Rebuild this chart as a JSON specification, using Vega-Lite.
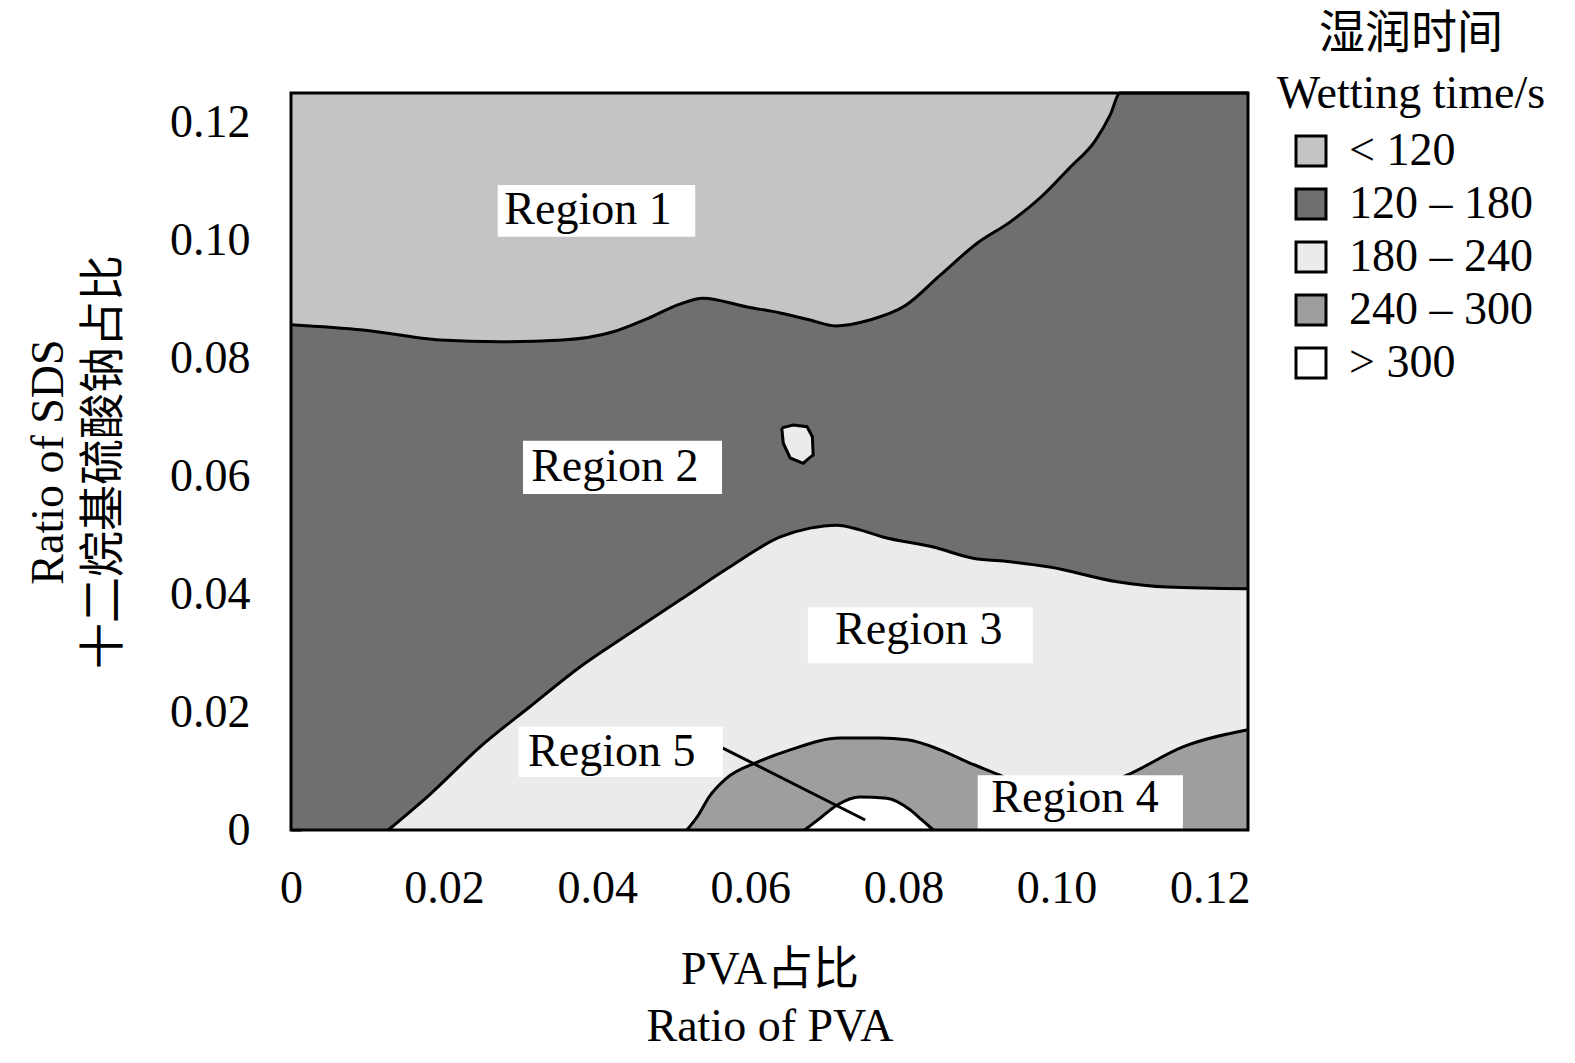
{
  "$schema": "https://vega.github.io/schema/vega-lite/v6.json",
  "width": 957,
  "height": 737,
  "autosize": "none",
  "padding": {"left": 291, "top": 93, "right": 327, "bottom": 233},
  "background": "white",
  "datasets": {
    "upper": [{"x":0,"y":0.0857},{"x":0.0094,"y":0.0848},{"x":0.0195,"y":0.0831},{"x":0.0273,"y":0.0828},{"x":0.0355,"y":0.0831},{"x":0.0421,"y":0.0845},{"x":0.0465,"y":0.0867},{"x":0.0508,"y":0.0892},{"x":0.0538,"y":0.0902},{"x":0.0596,"y":0.0887},{"x":0.0639,"y":0.0877},{"x":0.0678,"y":0.0865},{"x":0.0711,"y":0.0855},{"x":0.0756,"y":0.0865},{"x":0.0802,"y":0.0889},{"x":0.0848,"y":0.0941},{"x":0.0897,"y":0.0996},{"x":0.0939,"y":0.1031},{"x":0.098,"y":0.1074},{"x":0.1017,"y":0.1123},{"x":0.1051,"y":0.117},{"x":0.107,"y":0.1213},{"x":0.1083,"y":0.125},{"x":0.125,"y":0.125}],
    "lower": [{"x":0.0127,"y":0},{"x":0.0182,"y":0.0061},{"x":0.0247,"y":0.0141},{"x":0.0312,"y":0.0209},{"x":0.0377,"y":0.0276},{"x":0.0443,"y":0.0334},{"x":0.0508,"y":0.039},{"x":0.0573,"y":0.0446},{"x":0.0639,"y":0.0497},{"x":0.0678,"y":0.0512},{"x":0.0713,"y":0.0517},{"x":0.0743,"y":0.0509},{"x":0.0773,"y":0.0497},{"x":0.0839,"y":0.048},{"x":0.0891,"y":0.0461},{"x":0.0939,"y":0.0455},{"x":0.0991,"y":0.0446},{"x":0.1079,"y":0.0421},{"x":0.1144,"y":0.0412},{"x":0.125,"y":0.0409}],
    "dome4": [{"x":0.0517,"y":0},{"x":0.0532,"y":0.0025},{"x":0.0546,"y":0.0056},{"x":0.0569,"y":0.0088},{"x":0.0609,"y":0.0115},{"x":0.0652,"y":0.0136},{"x":0.0717,"y":0.0156},{"x":0.0769,"y":0.0156},{"x":0.0805,"y":0.0153},{"x":0.0848,"y":0.0136},{"x":0.0886,"y":0.0114},{"x":0.0926,"y":0.0093},{"x":0.0965,"y":0.007},{"x":0.1045,"y":0.007},{"x":0.1092,"y":0.0093},{"x":0.1165,"y":0.0141},{"x":0.125,"y":0.017}],
    "dome5": [{"x":0.0671,"y":0},{"x":0.0691,"y":0.002},{"x":0.0713,"y":0.0042},{"x":0.0743,"y":0.0056},{"x":0.0778,"y":0.0054},{"x":0.0809,"y":0.0034},{"x":0.0824,"y":0.0017},{"x":0.0839,"y":0}],
    "hexfill": [{"x":0.0641,"y":0.0682,"y2":0.0672},{"x":0.0643,"y":0.0683,"y2":0.0656},{"x":0.0652,"y":0.0686,"y2":0.0631},{"x":0.0656,"y":0.0687,"y2":0.0629},{"x":0.0669,"y":0.0685,"y2":0.0622},{"x":0.0674,"y":0.0684,"y2":0.0624},{"x":0.0681,"y":0.0667,"y2":0.0631},{"x":0.0682,"y":0.0664,"y2":0.0636}],
    "hex": [{"o":1,"x":0.0641,"y":0.0682},{"o":2,"x":0.0656,"y":0.0687},{"o":3,"x":0.0674,"y":0.0684},{"o":4,"x":0.0681,"y":0.0667},{"o":5,"x":0.0682,"y":0.0636},{"o":6,"x":0.0669,"y":0.0622},{"o":7,"x":0.0652,"y":0.0631},{"o":8,"x":0.0643,"y":0.0656},{"o":9,"x":0.0641,"y":0.0682}],
    "pointer": [{"x":0.0564,"y":0.0139},{"x":0.075,"y":0.0017}],
    "labels": [
      {"t":"Region 1","x":0.0388,"y":0.1052,"x1":0.027,"x2":0.0528,"y1":0.1006,"y2":0.1094},
      {"t":"Region 2","x":0.0423,"y":0.0615,"x1":0.0303,"x2":0.0563,"y1":0.057,"y2":0.066},
      {"t":"Region 3","x":0.082,"y":0.0339,"x1":0.0675,"x2":0.0969,"y1":0.0283,"y2":0.0378},
      {"t":"Region 5","x":0.0419,"y":0.0132,"x1":0.0297,"x2":0.0564,"y1":0.009,"y2":0.0175},
      {"t":"Region 4","x":0.1024,"y":0.0054,"x1":0.0897,"x2":0.1165,"y1":0,"y2":0.0093}
    ]
  },
  "layer": [
    {
      "data": {"values": [{}]},
      "mark": {"type": "rect"},
      "encoding": {
        "x": {"datum": 0, "type": "quantitative", "scale": {"domain": [0, 0.125], "nice": false, "zero": false},
              "axis": {"values": [0,0.02,0.04,0.06,0.08,0.1,0.12], "labelExpr": "datum.value == 0 ? '0' : format(datum.value, '.2f')",
                       "title": ["PVA占比", "Ratio of PVA"], "labelPadding": 46, "titlePadding": 36, "titleLineHeight": 57}},
        "x2": {"datum": 0.125},
        "y": {"datum": 0, "type": "quantitative", "scale": {"domain": [0, 0.125], "nice": false, "zero": false},
              "axis": {"values": [0,0.02,0.04,0.06,0.08,0.1,0.12], "labelExpr": "datum.value == 0 ? '0' : format(datum.value, '.2f')",
                       "title": ["Ratio of SDS", "十二烷基硫酸钠占比"], "labelPadding": 51, "titlePadding": 42, "titleLineHeight": 55}},
        "y2": {"datum": 0.125},
        "color": {"datum": "< 120", "type": "nominal",
                  "scale": {"domain": ["< 120", "120 – 180", "180 – 240", "240 – 300", "> 300"],
                            "range": ["#c4c4c4", "#6f6f6f", "#ebebeb", "#9e9e9e", "#ffffff"]},
                  "legend": {"orient": "none", "legendX": 986, "legendY": -81,
                             "title": ["湿润时间", "Wetting time/s"],
                             "titleFontSize": 46, "titleFont": "Liberation Serif, Noto Sans CJK SC", "titleFontWeight": "normal",
                             "titleColor": "black", "titleAnchor": "middle", "titleAlign": "center", "titleLineHeight": 60, "titlePadding": 10,
                             "titleLimit": 1000, "labelLimit": 1000,
                             "labelFontSize": 46, "labelFont": "Liberation Serif", "labelColor": "black", "labelOffset": 15,
                             "symbolType": "square", "symbolSize": 900, "symbolStrokeColor": "black", "symbolStrokeWidth": 3,
                             "symbolOpacity": 1, "rowPadding": 7}}
      }
    },
    {
      "data": {"name": "upper"},
      "mark": {"type": "area", "interpolate": "monotone", "opacity": 1},
      "encoding": {"x": {"field": "x", "type": "quantitative"}, "y": {"field": "y", "type": "quantitative"}, "y2": {"datum": 0},
                   "color": {"datum": "120 – 180", "type": "nominal"}}
    },
    {
      "data": {"name": "lower"},
      "mark": {"type": "area", "interpolate": "monotone", "opacity": 1},
      "encoding": {"x": {"field": "x", "type": "quantitative"}, "y": {"field": "y", "type": "quantitative"}, "y2": {"datum": 0},
                   "color": {"datum": "180 – 240", "type": "nominal"}}
    },
    {
      "data": {"name": "dome4"},
      "mark": {"type": "area", "interpolate": "monotone", "opacity": 1},
      "encoding": {"x": {"field": "x", "type": "quantitative"}, "y": {"field": "y", "type": "quantitative"}, "y2": {"datum": 0},
                   "color": {"datum": "240 – 300", "type": "nominal"}}
    },
    {
      "data": {"name": "dome5"},
      "mark": {"type": "area", "interpolate": "monotone", "opacity": 1},
      "encoding": {"x": {"field": "x", "type": "quantitative"}, "y": {"field": "y", "type": "quantitative"}, "y2": {"datum": 0},
                   "color": {"datum": "> 300", "type": "nominal"}}
    },
    {
      "data": {"name": "hexfill"},
      "mark": {"type": "area", "opacity": 1},
      "encoding": {"x": {"field": "x", "type": "quantitative"}, "y": {"field": "y", "type": "quantitative"}, "y2": {"field": "y2"},
                   "color": {"datum": "180 – 240", "type": "nominal"}}
    },
    {
      "data": {"name": "upper"},
      "mark": {"type": "line", "interpolate": "monotone", "color": "black", "strokeWidth": 3},
      "encoding": {"x": {"field": "x", "type": "quantitative"}, "y": {"field": "y", "type": "quantitative"}}
    },
    {
      "data": {"name": "lower"},
      "mark": {"type": "line", "interpolate": "monotone", "color": "black", "strokeWidth": 3},
      "encoding": {"x": {"field": "x", "type": "quantitative"}, "y": {"field": "y", "type": "quantitative"}}
    },
    {
      "data": {"name": "dome4"},
      "mark": {"type": "line", "interpolate": "monotone", "color": "black", "strokeWidth": 3},
      "encoding": {"x": {"field": "x", "type": "quantitative"}, "y": {"field": "y", "type": "quantitative"}}
    },
    {
      "data": {"name": "dome5"},
      "mark": {"type": "line", "interpolate": "monotone", "color": "black", "strokeWidth": 3},
      "encoding": {"x": {"field": "x", "type": "quantitative"}, "y": {"field": "y", "type": "quantitative"}}
    },
    {
      "data": {"name": "hex"},
      "mark": {"type": "line", "color": "black", "strokeWidth": 3},
      "encoding": {"x": {"field": "x", "type": "quantitative"}, "y": {"field": "y", "type": "quantitative"}, "order": {"field": "o"}}
    },
    {
      "data": {"name": "pointer"},
      "mark": {"type": "line", "color": "black", "strokeWidth": 3},
      "encoding": {"x": {"field": "x", "type": "quantitative"}, "y": {"field": "y", "type": "quantitative"}}
    },
    {
      "data": {"name": "labels"},
      "mark": {"type": "rect", "fill": "white", "stroke": null},
      "encoding": {"x": {"field": "x1", "type": "quantitative"}, "x2": {"field": "x2"}, "y": {"field": "y1", "type": "quantitative"}, "y2": {"field": "y2"}}
    },
    {
      "data": {"name": "labels"},
      "mark": {"type": "text", "font": "Liberation Serif", "fontSize": 46, "color": "black", "align": "center", "baseline": "middle"},
      "encoding": {"x": {"field": "x", "type": "quantitative"}, "y": {"field": "y", "type": "quantitative"}, "text": {"field": "t"}}
    },
    {
      "data": {"values": [{}]},
      "mark": {"type": "rect", "filled": false, "stroke": "black", "strokeWidth": 3},
      "encoding": {"x": {"datum": 0, "type": "quantitative"}, "x2": {"datum": 0.125}, "y": {"datum": 0, "type": "quantitative"}, "y2": {"datum": 0.125}}
    }
  ],
  "config": {
    "view": {"stroke": null},
    "axis": {"grid": false, "domain": false, "zindex": 1, "ticks": true, "tickSize": -10, "tickWidth": 2, "tickColor": "black",
             "labelFont": "Liberation Serif", "labelFontSize": 46, "labelColor": "black", "labelFlush": false, "labelOverlap": false,
             "titleFont": "Liberation Serif, Noto Sans CJK SC", "titleFontSize": 46, "titleFontWeight": "normal", "titleColor": "black"}
  }
}
